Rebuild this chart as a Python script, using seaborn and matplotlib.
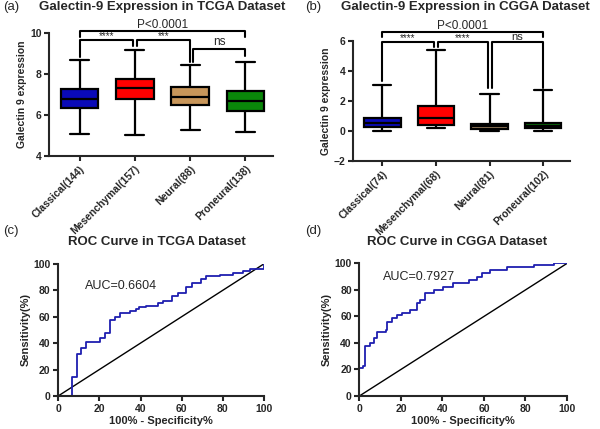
import numpy as np
import pandas as pd
import matplotlib
matplotlib.use("Agg")
import matplotlib.pyplot as plt
import seaborn as sns

sns.set_style("ticks")
plt.rcParams['font.family'] = ['Liberation Sans', 'DejaVu Sans']

# five-number summaries (min, Q1, median, Q3, max)
tcga_groups = ["Classical(144)", "Mesenchymal(157)", "Neural(88)", "Proneural(138)"]
tcga_classical = [5.10, 6.36, 6.77, 7.26, 8.69]
tcga_mesenchymal = [5.02, 6.80, 7.31, 7.78, 9.18]
tcga_neural = [5.27, 6.47, 6.87, 7.39, 8.45]
tcga_proneural = [5.18, 6.18, 6.70, 7.19, 8.61]

cgga_groups = ["Classical(74)", "Mesenchymal(68)", "Neural(81)", "Proneural(102)"]
cgga_classical = [0.00, 0.27, 0.53, 0.86, 3.09]
cgga_mesenchymal = [0.20, 0.44, 0.88, 1.64, 5.39]
cgga_neural = [0.00, 0.15, 0.31, 0.49, 2.45]
cgga_proneural = [0.04, 0.18, 0.33, 0.53, 2.70]

tcga_colors = ["#0A0AB8", "#FF0000", "#C8965A", "#0A870A"]
cgga_colors = ["#0A0AB8", "#FF0000", "#A08462", "#0A6E0A"]

# ROC corner points (fpr %, tpr %)
tcga_fpr = [0, 6.5, 9.2, 11.3, 13.4, 20.5, 22.8, 25.4, 27.5, 30, 34.8, 38, 39.3, 42.9,
            48.5, 51, 55.5, 58.3, 62.3, 65.2, 69.6, 72, 78.5, 85, 89.8, 93, 100]
tcga_tpr = [0, 14, 32, 36, 40.7, 43.7, 48, 57.6, 60, 62.6, 64, 65.7, 67.4, 68.4,
            70.2, 71.5, 75.8, 77.8, 82.8, 85.4, 88.6, 91, 91.7, 92.7, 94.2, 96.2, 100]
cgga_fpr = [0, 0, 1.9, 2.9, 5.1, 7, 8.7, 12.9, 13.5, 15.6, 18, 20.4, 24.4, 27.7, 29.3,
            31.7, 35.7, 40.5, 45.3, 52.6, 56.6, 59, 63, 71, 84, 93.6, 100]
cgga_tpr = [0, 20.75, 22.5, 38, 40, 43.8, 48, 50, 56, 58.8, 61, 62.5, 65, 70, 72.5,
            78, 80, 82.5, 85, 87.5, 90, 93, 95, 97.5, 98.7, 100, 100]


def long_df(groups, values):
    rows = []
    for g, v in zip(groups, values):
        for x in v:
            rows.append((g, x))
    return pd.DataFrame(rows, columns=["group", "value"])


def bracket(ax, x1, x2, y, y1, y2, text, ty, size=8):
    ax.plot([x1, x1, x2, x2], [y1, y, y, y2], color="black", lw=1.5, clip_on=False)
    ax.text((x1 + x2) / 2, ty, text, ha="center", va="bottom", fontsize=size, clip_on=False)


def style_axes(ax):
    for lab in ax.get_xticklabels() + ax.get_yticklabels():
        lab.set_fontweight("bold")
    ax.tick_params(labelsize=7.5, width=1.5, length=3.5, pad=2)
    sns.despine(ax=ax)
    for s in ["left", "bottom"]:
        ax.spines[s].set_linewidth(1.5)


def box_panel(ax, groups, values, colors, ylim, yticks):
    df = long_df(groups, values)
    sns.boxplot(data=df, x="group", y="value", hue="group", palette=colors, legend=False,
                whis=(0, 100), width=0.68, linecolor="black", linewidth=1.6,
                saturation=1, ax=ax)
    ax.set_ylim(*ylim)
    ax.set_yticks(yticks)
    ax.set_xlim(-0.55, 3.5)
    ax.set_xlabel("")
    ax.set_ylabel("Galectin 9 expression", fontsize=7.5, fontweight="bold", labelpad=2)
    ax.set_xticks(range(4))
    ax.set_xticklabels(groups, rotation=45, ha="right", rotation_mode="anchor",
                       fontsize=7.5)
    style_axes(ax)


def roc_panel(ax, fpr, tpr, auc, auc_pos):
    sns.lineplot(x=[0, 100], y=[0, 100], color="black", lw=1, ax=ax)
    sns.lineplot(x=fpr, y=tpr, sort=False, estimator=None, drawstyle="steps-post",
                 color="#1F1FB0", lw=1.3, ax=ax)
    ax.set_xlim(0, 100)
    ax.set_ylim(0, 100)
    ax.set_xticks(range(0, 101, 20))
    ax.set_yticks(range(0, 101, 20))
    ax.set_xlabel("100% - Specificity%", fontsize=8, fontweight="bold", labelpad=2)
    ax.set_ylabel("Sensitivity(%)", fontsize=8, fontweight="bold", labelpad=2)
    ax.text(auc_pos[0], auc_pos[1], "AUC=" + auc, fontsize=9, va="center")
    style_axes(ax)


fig = plt.figure(figsize=(6, 4.29), dpi=100)
ax_a = fig.add_axes([0.082, 0.636, 0.373, 0.287])
ax_b = fig.add_axes([0.588, 0.624, 0.362, 0.281])
ax_c = fig.add_axes([0.097, 0.077, 0.343, 0.308])
ax_d = fig.add_axes([0.599, 0.077, 0.346, 0.309])

box_panel(ax_a, tcga_groups,
          [tcga_classical, tcga_mesenchymal, tcga_neural, tcga_proneural],
          tcga_colors, (4, 10), [4, 6, 8, 10])
bracket(ax_a, 0, 3, 10.11, 9.8, 9.8, "P<0.0001", 10.12, size=8.5)
bracket(ax_a, 0, 0.97, 9.67, 8.82, 9.35, "****", 9.62, size=7)
bracket(ax_a, 1.03, 2, 9.67, 9.35, 8.61, "***", 9.62, size=7)
bracket(ax_a, 2.05, 3, 9.22, 8.61, 8.89, "ns", 9.26, size=8.5)

box_panel(ax_b, cgga_groups,
          [cgga_classical, cgga_mesenchymal, cgga_neural, cgga_proneural],
          cgga_colors, (-2, 6), [-2, 0, 2, 4, 6])
bracket(ax_b, 0, 0.96, 5.9, 3.36, 5.57, "****", 5.85, size=7)
bracket(ax_b, 1.04, 1.97, 5.9, 5.57, 2.87, "****", 5.85, size=7)
bracket(ax_b, 2.04, 3, 5.9, 2.87, 2.87, "ns", 5.92, size=8)
bracket(ax_b, 0, 3, 6.56, 6.28, 6.28, "P<0.0001", 6.57, size=8.5)

roc_panel(ax_c, tcga_fpr, tcga_tpr, "0.6604", (13, 83))
roc_panel(ax_d, cgga_fpr, cgga_tpr, "0.7927", (11.3, 90))

fig.text(0.005, 0.983, "(a)", fontsize=9.5, va="center")
fig.text(0.27, 0.983, "Galectin-9 Expression in TCGA Dataset", fontsize=9.5,
         fontweight="bold", ha="center", va="center")
fig.text(0.508, 0.983, "(b)", fontsize=9.5, va="center")
fig.text(0.775, 0.983, "Galectin-9 Expression in CGGA Dataset", fontsize=9.5,
         fontweight="bold", ha="center", va="center")
fig.text(0.005, 0.462, "(c)", fontsize=9.5, va="center")
fig.text(0.262, 0.436, "ROC Curve in TCGA Dataset", fontsize=9.5,
         fontweight="bold", ha="center", va="center")
fig.text(0.508, 0.462, "(d)", fontsize=9.5, va="center")
fig.text(0.762, 0.436, "ROC Curve in CGGA Dataset", fontsize=9.5,
         fontweight="bold", ha="center", va="center")

fig.savefig("out.png", dpi=100)
